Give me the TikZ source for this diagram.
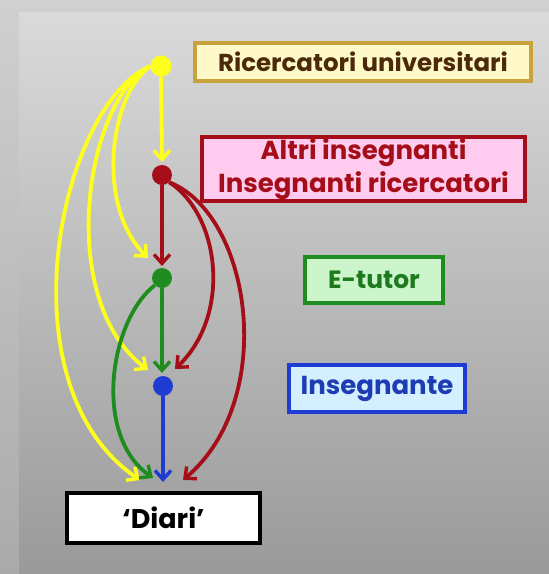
\documentclass[tikz,border=0pt]{standalone}
\usepackage{fontspec}
\setmainfont{Poppins}
\usetikzlibrary{arrows.meta}
\definecolor{ylw}{HTML}{FFFF1E}
\definecolor{rd}{HTML}{A50E18}
\definecolor{grn}{HTML}{1E8C1E}
\definecolor{blu}{HTML}{1E3CD2}
\definecolor{bgA}{HTML}{D0D0D0}
\definecolor{bgB}{HTML}{AAAAAA}
\definecolor{inA}{HTML}{DADADA}
\definecolor{inB}{HTML}{9A9A9A}
\tikzset{
  lbl/.style={draw, line width=3.2pt, inner sep=0pt, align=center},
  dot/.style={circle, inner sep=0pt, minimum size=20pt},
  arr/.style={line width=3.8pt, -{Straight Barb[length=9pt,width=16pt,line width=3.4pt]}},
}
\newcommand{\fs}[1]{\bfseries\fontsize{#1}{#1}\selectfont}
\begin{document}
\begin{tikzpicture}[x=1pt,y=-1pt]
\useasboundingbox (0,0) rectangle (549,574);
\shade[top color=bgA, bottom color=bgB] (0,0) rectangle (549,574);
\shade[top color=inA, bottom color=inB] (19,12) rectangle (549,574);

% label boxes
\node[lbl, fill={rgb,255:red,255;green,248;blue,200}, draw={rgb,255:red,200;green,162;blue,60}, text={rgb,255:red,74;green,42;blue,10},
  font=\fs{24.5}, minimum width=336pt, minimum height=38pt] (ricb) at (363,62) {Ricercatori universitari};
\node[lbl, fill={rgb,255:red,255;green,204;blue,240}, draw=rd, text=rd,
  font=\fs{26}, minimum width=323pt, minimum height=64pt] (altb) at (363.5,169) {Altri insegnanti\\[4pt]Insegnanti ricercatori};
\node[lbl, fill={rgb,255:red,204;green,245;blue,204}, draw=grn, text={rgb,255:red,30;green,122;blue,30},
  font=\fs{25}, minimum width=138pt, minimum height=46pt] (etb) at (374,280) {E-tutor};
\node[lbl, fill={rgb,255:red,212;green,240;blue,255}, draw=blu, text={rgb,255:red,30;green,60;blue,180},
  font=\fs{26}, minimum width=176pt, minimum height=47pt] (insb) at (377,388.5) {Insegnante};
\node[lbl, fill=white, draw=black, line width=3.8pt, font=\fs{27},
  minimum width=193pt, minimum height=50pt] (diari) at (163.5,518) {‘Diari’};

% dots
\node[dot, fill=ylw, minimum size=21pt] (y) at (161,66) {};
\node[dot, fill=rd] (r) at (162,175) {};
\node[dot, fill=grn] (g) at (162,278) {};
\node[dot, fill=blu] (b) at (163,386) {};

% arrow end points
\coordinate (yr) at (162,162);
\coordinate (yg) at (148,258);
\coordinate (yb) at (148,370);
\coordinate (yd) at (140,480);
\coordinate (rg) at (162,266);
\coordinate (rb) at (175,369);
\coordinate (rd) at (183,480);
\coordinate (gb) at (162,373);
\coordinate (gd) at (153,478);
\coordinate (bd) at (163,482);

% yellow
\draw[arr, ylw] (y.south) -- (yr);
\draw[arr, ylw] (y.west) .. controls (110,95) and (95,205) .. (yg);
\draw[arr, ylw] (y.west) .. controls (85,100) and (55,300) .. (yb);
\draw[arr, ylw] (y.west) .. controls (60,105) and (0,385) .. (yd);
% red
\draw[arr, rd] (r.south) -- (rg);
\draw[arr, rd] (r.south east) .. controls (220,215) and (232,315) .. (rb);
\draw[arr, rd] (r.south east) .. controls (252,215) and (278,400) .. (rd);
% green
\draw[arr, grn] (g.south) -- (gb);
\draw[arr, grn] (g.south west) .. controls (110,320) and (92,435) .. (gd);
% blue
\draw[arr, blu] (b.south) -- (bd);
\end{tikzpicture}
\end{document}
